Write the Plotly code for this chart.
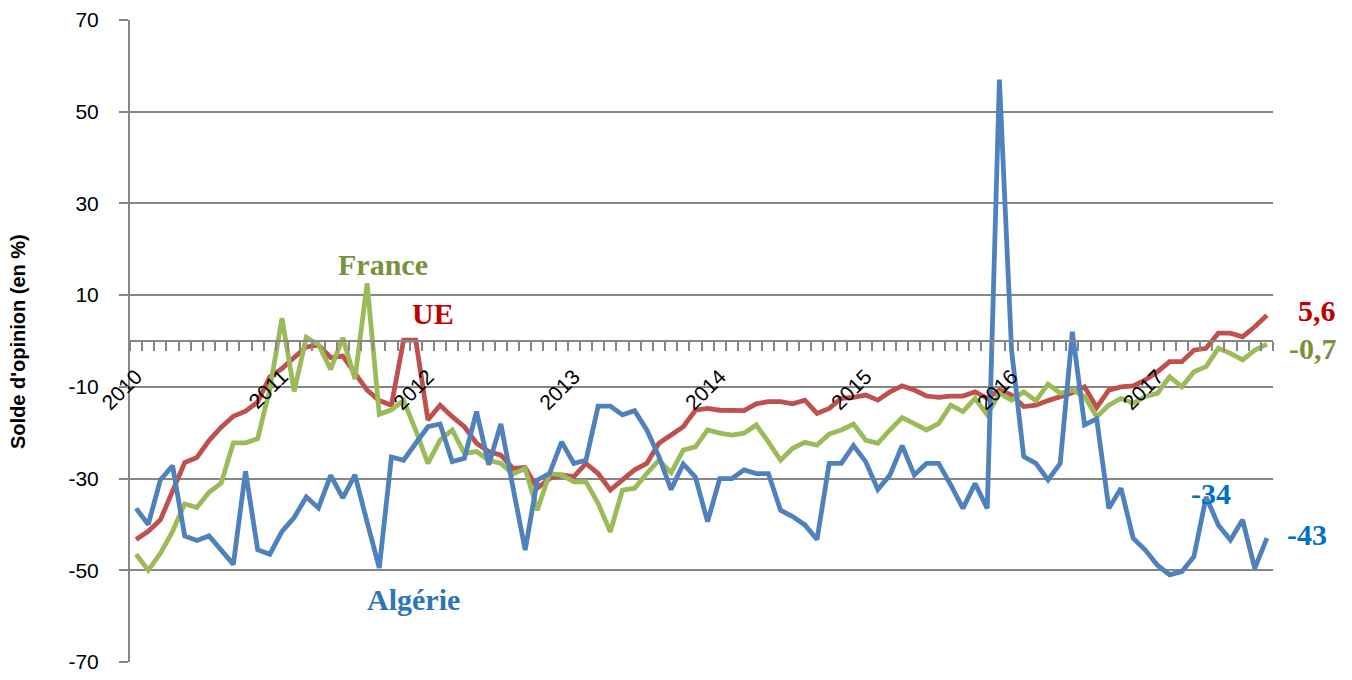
import plotly.graph_objects as go

# ---------------- data (monthly, Jan 2010 -> Oct 2017) ----------------
years = ["2010", "2011", "2012", "2013", "2014", "2015", "2016", "2017"]
month_names = ["janv", "févr", "mars", "avr", "mai", "juin",
               "juil", "août", "sept", "oct", "nov", "déc"]
months = [f"{m} {y}" for y in years for m in month_names][:94]

algerie = [-36.5, -40, -30.3, -27.2, -42.5, -43.5, -42.5, -45.5, -48.7, -28.4,
           -45.5, -46.5, -41.5, -38.5, -34, -36.4, -29.3, -34.2, -29.2, -39.5,
           -49.5, -25.3, -26, -22.3, -18.7, -18.1, -26.3, -25.6, -15.4, -27,
           -18.1, -32, -45.6, -30.3, -28.9, -22, -26.7, -26, -14.2, -14.2,
           -16.1, -15.2, -19.4, -25.2, -32.4, -26.8, -29.7, -39.4, -30, -30,
           -28.1, -28.9, -28.9, -36.9, -38.3, -40.1, -43.3, -26.7, -26.7, -22.8,
           -26.3, -32.4, -29.2, -22.8, -29.2, -26.7, -26.7, -31.4, -36.5, -31.1,
           -36.5, 57, -2, -25.2, -26.7, -30.3, -26.7, 2, -18.3, -17,
           -36.5, -32.1, -43, -45.6, -48.9, -51, -50.3, -47, -34, -40.1,
           -43.4, -39, -49.6, -43]

ue = [-43.3, -41.5, -39, -33, -26.5, -25.4, -21.7, -18.8, -16.4, -15.3,
      -13.3, -7.8, -6, -3.6, -1.3, -0.9, -3.6, -3.3, -7, -10.7,
      -13, -14, 0.2, 0.2, -17.2, -14, -16.5, -18.7, -22.3, -24.1,
      -24.9, -27.8, -27.6, -32.1, -30, -29.2, -29.6, -26.7, -28.9, -32.5,
      -30.3, -28.1, -26.7, -22.3, -20.5, -18.7, -15.1, -14.7, -15.1, -15.2,
      -15.2, -13.7, -13.2, -13.2, -13.7, -12.9, -15.8, -14.7, -12.5, -12.3,
      -11.8, -12.9, -11.1, -9.8, -10.7, -12, -12.3, -12, -12, -11.1,
      -12.5, -10.7, -11.8, -14.3, -14, -13, -12.1, -11.3, -10, -14.5,
      -10.7, -10, -9.8, -8.5, -6.7, -4.5, -4.5, -2, -1.6, 1.7,
      1.7, 0.9, 3.1, 5.6]

france = [-46.5, -50, -46.3, -41.5, -35.5, -36.3, -33, -31, -22.2, -22.2,
          -21.3, -10.5, 5, -11, 0.8, -0.8, -6.2, 0.7, -8.3, 12.6,
          -16, -15, -13, -19.5, -26.7, -21.6, -19.4, -24.5, -24.1, -26,
          -26.7, -29, -27.8, -36.9, -28.9, -29.2, -30.7, -30.7, -35.4, -41.6,
          -32.5, -32.1, -28.9, -26, -28.7, -23.8, -23.1, -19.4, -20.1, -20.5,
          -20.1, -18.3, -22, -26, -23.4, -22.1, -22.7, -20.3, -19.4, -18.1,
          -21.6, -22.3, -19.4, -16.7, -18, -19.4, -18, -14, -15.4, -12.5,
          -16.1, -11.4, -12.9, -11.1, -13, -9.4, -11.4, -10.7, -12.1, -16.5,
          -14, -12.5, -13.6, -12.1, -11.4, -7.8, -10, -6.7, -5.6, -1.6,
          -2.7, -4.1, -2, -0.7]

y_ticks = [-70, -50, -30, -10, 10, 30, 50, 70]
y_ticktext = [str(v) for v in y_ticks]
year_pos = [months.index(f"janv {y}") for y in years]

x = list(range(len(months)))

GRID = "#868686"
C_ALG, C_UE, C_FR = "#4F81BD", "#C0504D", "#9BBB59"
LW = 4.8

fig = go.Figure()
fig.add_trace(go.Scatter(x=x, y=ue, mode="lines", name="UE", customdata=months,
                         line=dict(color=C_UE, width=LW)))
fig.add_trace(go.Scatter(x=x, y=france, mode="lines", name="France", customdata=months,
                         line=dict(color=C_FR, width=LW)))
fig.add_trace(go.Scatter(x=x, y=algerie, mode="lines", name="Algérie", customdata=months,
                         line=dict(color=C_ALG, width=LW)))

serif = "Liberation Serif"
def lab(xv, yv, text, color, xref="x", size=30):
    fig.add_annotation(x=xv, y=yv, xref=xref, yref="y", text=f"<b>{text}</b>",
                       showarrow=False, xanchor="center", yanchor="middle",
                       font=dict(family=serif, size=size, color=color))

lab(20.3, 16.6, "France", "#77933C")
lab(24.4, 6.1, "UE", "#C00000")
lab(22.8, -56.4, "Algérie", "#2E75B6")
lab(88.4, -33.3, "-34", "#0070C0")
# labels in the right margin (paper x)
lab(1.0385, 6.75, "5,6", "#C00000", xref="paper")
lab(1.0350, -1.7, "-0,7", "#77933C", xref="paper")
lab(1.0295, -42.3, "-43", "#0070C0", xref="paper")

# y axis title
fig.add_annotation(x=-0.098, y=0.5, xref="paper", yref="paper",
                   text="<b>Solde d'opinion (en %)</b>", textangle=-90,
                   showarrow=False, xanchor="center", yanchor="middle",
                   font=dict(size=20, color="black", family="Liberation Sans"))

# outer chart border on the right
fig.add_shape(type="line", xref="paper", yref="paper", x0=1.0674, x1=1.0674,
              y0=-0.03, y1=1.02, line=dict(color="#A0A0A0", width=1.5))

fig.update_layout(
    width=1344, height=672,
    margin=dict(l=122, r=79, t=12, b=18, autoexpand=False),
    paper_bgcolor="white", plot_bgcolor="white",
    showlegend=False,
    font=dict(family="Liberation Sans", color="black"),
    xaxis=dict(
        range=[-0.5, len(months) - 0.5],
        anchor="free", position=0.5, automargin=False,
        showline=True, linecolor=GRID, linewidth=2,
        showgrid=False, zeroline=False,
        tickmode="array", tickvals=year_pos, ticktext=years,
        ticks="", tickangle=-45,
        tickfont=dict(size=21, color="black", family="Liberation Sans"),
        ticklabelstandoff=14, ticklabelshift=0,
        minor=dict(ticks="outside", tick0=-0.5, dtick=1, ticklen=9,
                   tickwidth=2, tickcolor=GRID, showgrid=False),
    ),
    yaxis=dict(
        range=[-70, 70], tickmode="array", tickvals=y_ticks, ticktext=y_ticktext,
        automargin=False,
        showgrid=True, gridcolor=GRID, gridwidth=2,
        zeroline=False, showline=True, linecolor=GRID, linewidth=2,
        ticks="outside", ticklen=9, tickwidth=2, tickcolor=GRID,
        tickfont=dict(size=21, color="black", family="Liberation Sans"),
        ticklabelstandoff=16,
    ),
)

fig.write_html("out.html")
